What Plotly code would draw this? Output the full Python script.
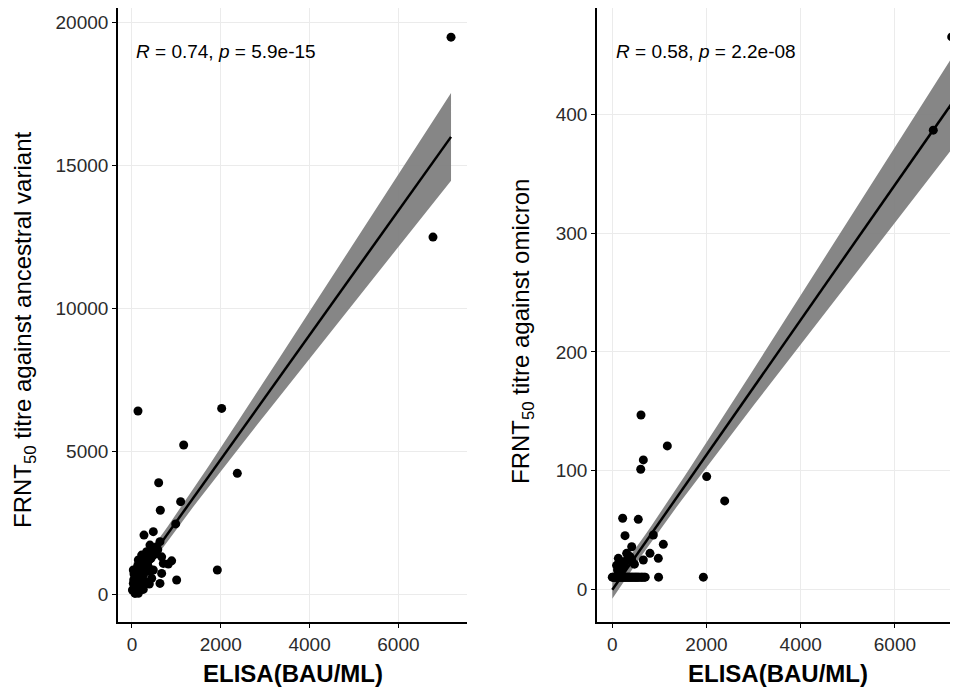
import numpy as np
import plotly.graph_objects as go

# ---- data ----
elisa_anc = [7185, 6779, 135, 2020, 1164, 2372, 601, 1096, 638, 984, 270, 480, 630, 555, 405,
             330, 218, 143, 668, 893, 705, 30, 180, 368, 480, 668, 443, 1006, 630, 30, 105,
             10, 68, 180, 293, 255, 143, 1922, 390, 255, 143, 218, 818, 105, 45, 300, 420,
             520, 350, 200, 80, 60, 150,
             90, 120, 160, 200, 240, 280, 320, 360, 400, 440, 500, 560, 60, 110, 170, 230,
             270, 310, 350, 390, 430, 470, 520, 580, 40, 75, 130]
frnt_anc = [19470, 12480, 6400, 6490, 5210, 4220, 3890, 3230, 2930, 2450, 2060, 2180, 1830, 1650, 1710,
            1480, 1360, 1190, 1300, 1160, 1070, 840, 900, 950, 840, 720, 550, 490, 370, 370, 550,
            140, 20, 255, 430, 660, 660, 840, 350, 160, 25, 1010, 1050, 255, 700, 1250, 1300,
            1500, 800, 450, 100, 300, 900,
            400, 600, 750, 950, 1100, 1150, 1200, 1300, 1400, 1450, 1550, 1600, 200, 350, 500, 700,
            850, 1000, 1100, 1200, 1250, 1350, 1400, 1550, 500, 800, 1000]

elisa_omi = [7206, 6815, 609, 1168, 659, 603, 2004, 2386, 220, 552, 270, 871, 1083, 412, 800,
             305, 977, 659, 128, 412, 200, 350, 250,
             0, 62, 132, 203, 274, 345, 415, 486, 557, 628, 699, 982, 1933, 30, 100, 170, 240,
             310, 380, 450, 520,
             15, 45, 80, 115, 150, 185, 220, 255, 290, 325, 360, 395, 430, 470, 505, 540,
             580, 610, 650, 680, 150, 260, 330, 470, 180, 230, 300, 380, 140, 110, 90]
frnt_omi = [465.6, 387, 146.8, 120.7, 108.9, 101, 94.8, 74.3, 59.7, 58.8, 45, 45.6, 37.7, 35.7, 30.1,
            30.1, 25.9, 24.5, 25.9, 24.5, 23, 28, 20,
            10, 10, 10, 10, 10, 10, 10, 10, 10, 10, 10, 10, 10, 10, 10, 10, 10,
            10, 10, 10, 10,
            10, 10, 10, 10, 10, 10, 10, 10, 10, 10, 10, 10, 10, 10, 10, 10,
            10, 10, 10, 10, 20, 22, 25, 21, 17, 19, 24, 27, 15, 16, 20]

x_ticks = [0, 2000, 4000, 6000]
y_ticks_anc = [0, 5000, 10000, 15000, 20000]
y_ticks_omi = [0, 100, 200, 300, 400]

stat_anc = "<i>R</i> = 0.74, <i>p</i> = 5.9e-15"
stat_omi = "<i>R</i> = 0.58, <i>p</i> = 2.2e-08"
x_title = "ELISA(BAU/ML)"
y_title_anc = "FRNT<sub>50</sub> titre against ancestral variant"
y_title_omi = "FRNT<sub>50</sub> titre against omicron"


def lm_fit(x, y, t=1.99, n_grid=80):
    x = np.asarray(x, float)
    y = np.asarray(y, float)
    n = len(x)
    b, a = np.polyfit(x, y, 1)
    resid = y - (a + b * x)
    s = np.sqrt(np.sum(resid ** 2) / (n - 2))
    xbar = x.mean()
    sxx = np.sum((x - xbar) ** 2)
    xg = np.linspace(x.min(), x.max(), n_grid)
    yg = a + b * xg
    se = s * np.sqrt(1.0 / n + (xg - xbar) ** 2 / sxx)
    return xg, yg, yg - t * se, yg + t * se


FONT = "Liberation Sans, Arial, sans-serif"
# page body has an 8px margin: figure is placed at (8, 8) in the window
OFF = 8
W, H = 958 - OFF, 689 - OFF


def px(xpix):
    return (xpix - OFF) / W


def py(ypix):
    return (689 - ypix) / H


fig = go.Figure()
panels = [
    (elisa_anc, frnt_anc, "x", "y"),
    (elisa_omi, frnt_omi, "x2", "y2"),
]
for xs, ys, xa, ya in panels:
    xg, yg, lo, hi = lm_fit(xs, ys)
    fig.add_trace(go.Scatter(
        x=np.concatenate([xg, xg[::-1]]), y=np.concatenate([hi, lo[::-1]]),
        fill="toself", fillcolor="rgba(128,128,128,0.95)", line=dict(width=0),
        mode="lines", hoverinfo="skip", showlegend=False, xaxis=xa, yaxis=ya))
    fig.add_trace(go.Scatter(
        x=xs, y=ys, mode="markers", marker=dict(color="black", size=9),
        cliponaxis=False, showlegend=False, xaxis=xa, yaxis=ya))
    fig.add_trace(go.Scatter(
        x=xg, y=yg, mode="lines", line=dict(color="black", width=2.5),
        showlegend=False, xaxis=xa, yaxis=ya))

ydom = [py(622), py(8)]
axis_common = dict(
    showline=True, linecolor="black", linewidth=1.6,
    ticks="outside", ticklen=4, tickwidth=1.4, tickcolor="black",
    showgrid=True, gridcolor="#EBEBEB", gridwidth=1.2,
    zeroline=False, tickformat="d",
    tickfont=dict(family=FONT, size=19, color="#2b2b2b"),
)

fig.update_layout(
    width=W, height=H,
    margin=dict(l=0, r=0, t=0, b=0),
    paper_bgcolor="white", plot_bgcolor="white",
    xaxis=dict(domain=[px(118), px(467)], range=[-315, 7545], tickvals=x_ticks, anchor="y", **axis_common),
    yaxis=dict(domain=ydom, range=[-979, 20490], tickvals=y_ticks_anc, anchor="x", **axis_common),
    xaxis2=dict(domain=[px(597), 1.0], range=[-325, 7340], tickvals=x_ticks, anchor="y2", **axis_common),
    yaxis2=dict(domain=ydom, range=[-27.8, 490], tickvals=y_ticks_omi, anchor="x2", **axis_common),
    annotations=[
        dict(text=x_title, x=px((118 + 467) / 2), y=py(673), xref="paper", yref="paper",
             showarrow=False, font=dict(family=FONT, size=24, color="black", weight="bold"),
             xanchor="center", yanchor="middle"),
        dict(text=x_title, x=px((597 + 958) / 2), y=py(673), xref="paper", yref="paper",
             showarrow=False, font=dict(family=FONT, size=24, color="black", weight="bold"),
             xanchor="center", yanchor="middle"),
        dict(text=y_title_anc, x=px(24), y=py(330), xref="paper", yref="paper",
             showarrow=False, textangle=-90,
             font=dict(family=FONT, size=24, color="black"), xanchor="center", yanchor="middle"),
        dict(text=y_title_omi, x=px(522), y=py(332), xref="paper", yref="paper",
             showarrow=False, textangle=-90,
             font=dict(family=FONT, size=24, color="black"), xanchor="center", yanchor="middle"),
        dict(text=stat_anc, x=px(134), y=py(52), xref="paper", yref="paper", showarrow=False,
             font=dict(family=FONT, size=19, color="black"), xanchor="left", yanchor="middle"),
        dict(text=stat_omi, x=px(614), y=py(52), xref="paper", yref="paper", showarrow=False,
             font=dict(family=FONT, size=19, color="black"), xanchor="left", yanchor="middle"),
    ],
)

fig.write_html("out.html")
